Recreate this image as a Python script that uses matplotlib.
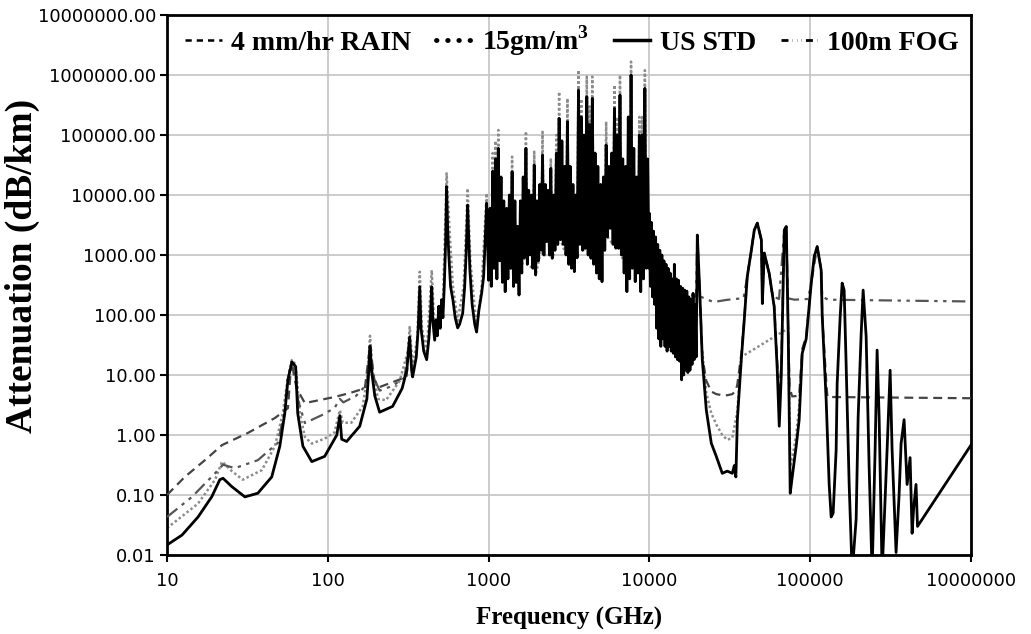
import matplotlib
matplotlib.use('Agg')
import matplotlib.pyplot as plt
from matplotlib.lines import Line2D
from matplotlib.ticker import NullLocator, FixedLocator, FixedFormatter

plt.rcParams['mathtext.fontset'] = 'custom'
plt.rcParams['mathtext.rm'] = 'Liberation Serif:bold'
plt.rcParams['mathtext.bf'] = 'Liberation Serif:bold'

# ---------------- data ----------------
# US standard atmosphere (solid black)
std_freq = [10, 12.4, 15.6, 19.0, 21.3, 22.3, 25.3, 30.5, 36.7, 44.8, 50.3, 54, 56.5, 59.8, 63.1, 65, 70, 79.5,
            95.6, 113.8, 118.8, 122, 131, 158, 175, 180, 183, 187, 196, 210, 253, 290, 310, 323, 332, 337, 355,
            365, 373, 380, 395, 412, 425, 435, 443, 450, 462, 470, 480, 490, 500, 510, 520, 530, 540, 548, 556,
            565, 580, 600, 620, 642, 660, 690, 710, 725, 741, 752, 765, 790, 820, 842, 870, 905, 931, 950, 972,
            985,
            1000, 1020, 1040, 1061, 1082, 1104, 1126, 1149, 1172, 1195, 1219, 1243, 1268, 1294, 1319, 1346, 1373,
            1400, 1428, 1457, 1486, 1516, 1546, 1577, 1608, 1641, 1673, 1707, 1741, 1776, 1811, 1848, 1885, 1922,
            1961, 2000, 2040, 2081, 2122, 2165, 2208, 2252, 2297, 2343, 2390, 2438, 2487, 2536, 2587, 2639, 2692,
            2745, 2800, 2856, 2913, 2972, 3031, 3092, 3154, 3217, 3281, 3347, 3414, 3482, 3551, 3623, 3695, 3769,
            3844, 3921, 4000, 4080, 4161, 4245, 4330, 4416, 4505, 4595, 4687, 4780, 4876, 4973, 5073, 5174, 5278,
            5383, 5491, 5601, 5713, 5827, 5944, 6063, 6184, 6307, 6434, 6562, 6694, 6828, 6964, 7103, 7245, 7390,
            7538, 7689, 7843, 8000, 8160, 8323, 8489, 8659, 8833, 9009, 9189, 9373, 9561, 9752, 9947,
            10000, 10150, 10302, 10457, 10614, 10773, 10934, 11098, 11265, 11434, 11605, 11779, 11956, 12136,
            12318, 12502, 12690, 12880, 13073, 13269, 13469, 13671, 13876, 14084, 14295, 14509, 14727, 14948,
            15172, 15400, 15631, 15865, 16103, 16345, 16590, 16839, 17091, 17348, 17608, 17872, 18140, 18412,
            18688, 18969, 19253, 19542, 19860,
            20500, 21330, 22590, 24260, 26060, 28390, 30490, 32790, 33730, 34500, 35230, 37270, 38900, 40630,
            43050, 44900, 46900, 49700, 50400, 51800, 55600, 59700, 62400, 64200, 66100, 69000, 71000, 73000,
            75100, 77300, 81800, 85400, 89200, 94400, 101500, 105900, 110500, 117000, 118800, 125700, 131200,
            135000, 138900, 145000, 147100, 153600, 158000, 162600, 167400, 174700, 182400, 193100, 198700,
            207500, 213400, 222800, 232500, 242700, 253300, 260700, 268300, 280100, 300700, 314100, 323100,
            342000, 357100, 367500, 383600, 400500, 418000, 430200, 440000, 455100, 465000, 1000000]
std_att = [0.0147, 0.0215, 0.043, 0.094, 0.18, 0.19, 0.138, 0.093, 0.107, 0.2, 0.65, 2.3, 8.3, 16.5, 13.7, 2.3,
           0.65, 0.36, 0.44, 1.0, 2.1, 0.85, 0.78, 1.4, 4, 12, 30, 12, 4.5, 2.4, 3.0, 6, 12, 43, 12, 9.3, 20,
           60, 295, 60, 25, 18, 40, 100, 295, 80, 38, 83, 45, 140, 60, 180, 90, 300, 1500, 13800, 3000,
           1070, 300, 178, 90, 61, 70, 107, 300, 1070, 6800, 2000, 560, 150, 70, 52, 120, 230, 435, 1500, 7300,
           2000,
           380, 6000, 300, 25000, 600, 40000, 400, 60000, 800, 20000, 350, 8000, 245, 6000, 400, 10000, 600,
           24500, 300, 8000, 350, 3000, 215, 8000, 500, 20000, 900, 60000, 700, 12000, 1000, 10000, 600, 31600,
           464, 8000, 800, 15000, 1200, 46400, 1000, 15000, 1670, 12000, 1000, 27800, 880, 10000, 1200, 50000,
           1500, 190000, 1800, 80000, 1500, 30000, 1000, 167000, 700, 30000, 600, 15000, 527, 10000, 900,
           562000, 1500, 200000, 1200, 100000, 1290, 435000, 1000, 150000, 880, 408000, 700, 50000, 500, 30000,
           400, 15000, 359, 20000, 1200, 68100, 2000, 30000, 2780, 50000, 1500, 278000, 1300, 100000, 1290,
           464000, 1000, 40000, 500, 30000, 245, 200000, 400, 1000000, 600, 60000, 359, 20000, 500, 100000,
           245, 100000, 400, 600000, 600, 40000, 600,
           4950, 300, 3500, 200, 2500, 150, 2000, 60, 1500, 40, 1200, 30, 1000, 40,
           800, 30, 700, 25, 600, 30, 500, 25, 400, 23, 700, 20, 400, 18,
           380, 17, 300, 8.3, 280, 10, 260, 12, 250, 11, 200, 12, 180, 15,
           230, 18, 150, 20, 2150,
           300, 18, 2.6, 0.73, 0.44, 0.23, 0.25, 0.23, 0.31, 0.2, 1.78, 18, 83, 440,
           1200, 2600, 3400, 1780, 155, 1080, 490, 138, 12, 1.4, 10, 2600, 2980, 50,
           0.107, 0.2, 0.65, 1.8, 23, 40, 340, 940, 1380, 560, 94, 3.8, 0.15,
           0.043, 0.05, 0.56, 7.2, 94, 340, 260, 14, 0.15, 0.005, 0.04, 2,
           49, 260, 44, 0.3, 0.005, 0.56, 26, 2, 0.005, 0.56, 12, 0.56,
           0.011, 0.1, 0.72, 1.8, 0.15, 0.42, 0.023, 0.06, 0.15, 0.03, 0.68]

# 15 g/m3 humidity (grey dotted)
hum_freq = [10, 15.6, 19.9, 22, 25.3, 29.6, 38.9, 46.9, 52.5, 56.5, 59.8, 63.1, 67, 72, 79.5, 95.6, 110, 118.8,
            124, 140, 165, 178, 183, 190, 205, 230, 280, 315, 323, 337, 360, 373, 385, 412, 443, 460, 520, 548,
            575, 600, 642, 700, 741, 770, 842, 905, 972, 1000,
            1040, 1061, 1082, 1104, 1126, 1149, 1172, 1373, 1400, 1428, 1673, 1707, 1741, 1885, 1922, 1961,
            2122, 2165, 2208, 2390, 2438, 2487, 2587, 2639, 2692, 2745, 2800, 3031, 3092, 3154, 3551, 3623,
            3695, 3769, 3844, 4000, 4080, 4161, 4245, 4330, 4416, 4505, 5278, 5383, 5491, 5944, 6063, 6184,
            6307, 6434, 6562, 6694, 7538, 7689, 7843, 8489, 8659, 8833, 9009, 9189, 9373, 9561]
hum_att = [0.028, 0.072, 0.18, 0.36, 0.25, 0.18, 0.26, 0.65, 2.3, 9.3, 17.8, 15, 2.3, 0.93, 0.72, 0.87, 1.1, 2.6,
           1.6, 1.6, 3, 12, 45, 12, 4, 3.8, 8, 25, 63, 14, 40, 525, 60, 25, 560, 60, 150, 23000,
           2000, 300, 80, 300, 12900, 800, 60, 300, 10700, 380,
           300, 50000, 600, 80000, 400, 121000, 800, 600, 43600, 300, 900, 115000, 700, 600, 52700, 464,
           1200, 113000, 1000, 1000, 40800, 880, 1200, 100000, 1500, 527000, 1800, 1000, 408000, 700, 900, 1210000,
           1500, 400000, 1200, 1290, 938000, 1000, 300000, 880, 938000, 700, 1200, 167000, 2000, 1500, 681000, 1300,
           200000, 1290, 1000000, 1000, 400, 1670000, 600, 500, 200000, 245, 200000, 400, 1200000, 600]
hum2_freq = [21330, 22590, 24260, 26060, 28390, 30490, 32790, 35230, 37270,
             73000, 75100, 77300, 81800, 85400, 89200]
hum2_att = [25, 5, 2.3, 1.5, 1.0, 0.83, 0.9, 2.5, 20,
            60, 0.3, 0.4, 1.0, 3, 25]

# 4 mm/hr rain (dashed)
rain_freq = [10, 12.9, 17.2, 22, 31.8, 46.9, 56.5, 58.5, 59.8, 61.5, 64, 72, 110, 137, 170, 183, 195, 210, 309, 323]
rain_att = [0.1, 0.2, 0.38, 0.68, 1.08, 1.92, 2.8, 10, 16.8, 10, 6, 3.4, 4.3, 5.0, 6, 31, 8, 6.3, 9.3, 45]
rain2_freq = [19860, 20500, 21330, 22590, 24260, 26060, 28390, 30490, 32790, 34500, 35230, 37270, 38900, 40630,
              43050, 44900, 46900, 49700, 50400, 51800, 55600, 59700, 62400, 63500, 64200, 66100, 69000, 71000,
              73000, 74500, 77300, 85400, 89200, 94400, 101500, 110500, 117000, 118800, 125700, 128000, 1000000]
rain2_att = [2150, 300, 20, 8, 5.3, 4.8, 4.6, 4.6, 4.8, 5.5, 7, 22, 87, 445,
             1200, 2600, 3400, 1780, 160, 1080, 495, 142, 16, 6, 5.5, 14, 2600, 2980,
             54, 6, 4.4, 4.5, 27, 44, 345, 1380, 565, 98, 8, 4.3, 4.1]

# 100 m fog (dash-dot-dot)
fog_freq = [10, 14.3, 19.9, 22.3, 26.4, 36.7, 48.9, 54, 56.5, 59.8, 63.1, 65, 72, 92, 110, 118.8, 125, 150, 175,
            183, 190, 210, 250, 300, 323]
fog_att = [0.043, 0.093, 0.23, 0.32, 0.28, 0.38, 0.74, 2.5, 9, 16.8, 14, 4, 1.58, 2.15, 2.8, 4, 3.5, 4.5, 7,
           31, 10, 5.5, 6.5, 9, 44]
fog2_freq = [11000, 12000, 14000, 16000, 18000, 19500, 19860, 20300, 21000, 23000, 25000, 27000, 30000, 34000,
             38500, 40630, 43050, 44900, 46900, 49700, 50400, 51800, 55600, 57500, 59700, 64000, 69000, 71000,
             72500, 80000, 97000, 101500, 105900, 110500, 117000, 118800, 130000, 1000000]
fog2_att = [300, 260, 250, 240, 220, 200, 2150, 250, 200, 180, 165, 170, 178, 185,
            190, 445, 1200, 2600, 3400, 1780, 250, 1080, 495, 250, 200, 185, 2600, 2980,
            190, 180, 185, 345, 940, 1380, 560, 200, 180, 168]

x_ticks = [10, 100, 1000, 10000, 100000, 1000000]
x_tick_labels = ['10', '100', '1000', '10000', '100000', '10000000']
y_ticks = [0.01, 0.1, 1, 10, 100, 1000, 10000, 100000, 1000000, 10000000]
y_tick_labels = ['0.01', '0.10', '1.00', '10.00', '100.00', '1000.00', '10000.00', '100000.00',
                 '1000000.00', '10000000.00']

legend_labels = ['4 mm/hr RAIN', '15gm/m$^{3}$', 'US STD', '100m FOG']

# ---------------- figure ----------------
W, H = 1031, 634
fig = plt.figure(figsize=(W / 100, H / 100), dpi=100)
ax = fig.add_axes([167 / W, 1 - 555 / H, 804 / W, 540 / H])
ax.set_xscale('log')
ax.set_yscale('log')

fog_style = (0, (6, 2.5, 1.5, 2.5, 1.5, 2.5))
ax.plot(hum_freq, hum_att, color='#8c8c8c', lw=1.8, ls=(0, (1, 1)), zorder=2)
ax.plot(hum2_freq, hum2_att, color='#8c8c8c', lw=1.8, ls=(0, (1, 1)), zorder=2)
ax.plot(fog_freq, fog_att, color='#555555', lw=1.6, ls=fog_style, zorder=3)
ax.plot(fog2_freq, fog2_att, color='#555555', lw=1.6, ls=fog_style, zorder=3)
ax.plot(rain_freq, rain_att, color='#444444', lw=1.6, ls=(0, (4, 2.5)), zorder=3)
ax.plot(rain2_freq, rain2_att, color='#444444', lw=1.6, ls=(0, (4, 2.5)), zorder=3)
ax.plot(std_freq, std_att, color='black', lw=2.0, zorder=4)

ax.set_xlim(10, 1e6)
ax.set_ylim(0.01, 1e7)
ax.xaxis.set_major_locator(FixedLocator(x_ticks))
ax.xaxis.set_major_formatter(FixedFormatter(x_tick_labels))
ax.yaxis.set_major_locator(FixedLocator(y_ticks))
ax.yaxis.set_major_formatter(FixedFormatter(y_tick_labels))
ax.xaxis.set_minor_locator(NullLocator())
ax.yaxis.set_minor_locator(NullLocator())

ax.grid(True, which='major', color='#c4c4c4', lw=1.2)
ax.set_axisbelow(True)
for s in ax.spines.values():
    s.set_linewidth(2.0)
    s.set_color('black')
ax.tick_params(axis='both', which='major', direction='out', length=5, width=1.5,
               labelsize=13, colors='black')
ax.tick_params(axis='x', pad=7)
ax.tick_params(axis='y', pad=3)
for lab in ax.get_xticklabels() + ax.get_yticklabels():
    lab.set_fontfamily('DejaVu Sans')

handles = [
    Line2D([], [], color='black', lw=1.8, ls=(0, (2.5, 2))),
    Line2D([], [], color='black', lw=3.5, ls=(0, (0.1, 2.2)), dash_capstyle='round'),
    Line2D([], [], color='black', lw=2.5),
    Line2D([], [], color='black', lw=2.0, ls=(0, (2.5, 1.5, 0.1, 1.5, 0.1, 1.5, 0.1, 1.5))),
]
leg = ax.legend(handles, legend_labels, loc='center', bbox_to_anchor=(0.504, 0.952), ncol=4,
                frameon=False, handlelength=1.3, handletextpad=0.35, columnspacing=0.9,
                prop={'family': 'Liberation Serif', 'weight': 'bold', 'size': 20})

fig.text(22 / W, 1 - 266 / H, 'Attenuation (dB/km)', rotation=90, ha='center', va='center',
         fontfamily='Liberation Serif', fontweight='bold', fontsize=27)
fig.text(569 / W, 1 - 618 / H, 'Frequency (GHz)', ha='center', va='center',
         fontfamily='Liberation Serif', fontweight='bold', fontsize=18)

fig.savefig('out.png', dpi=100, facecolor='white')
